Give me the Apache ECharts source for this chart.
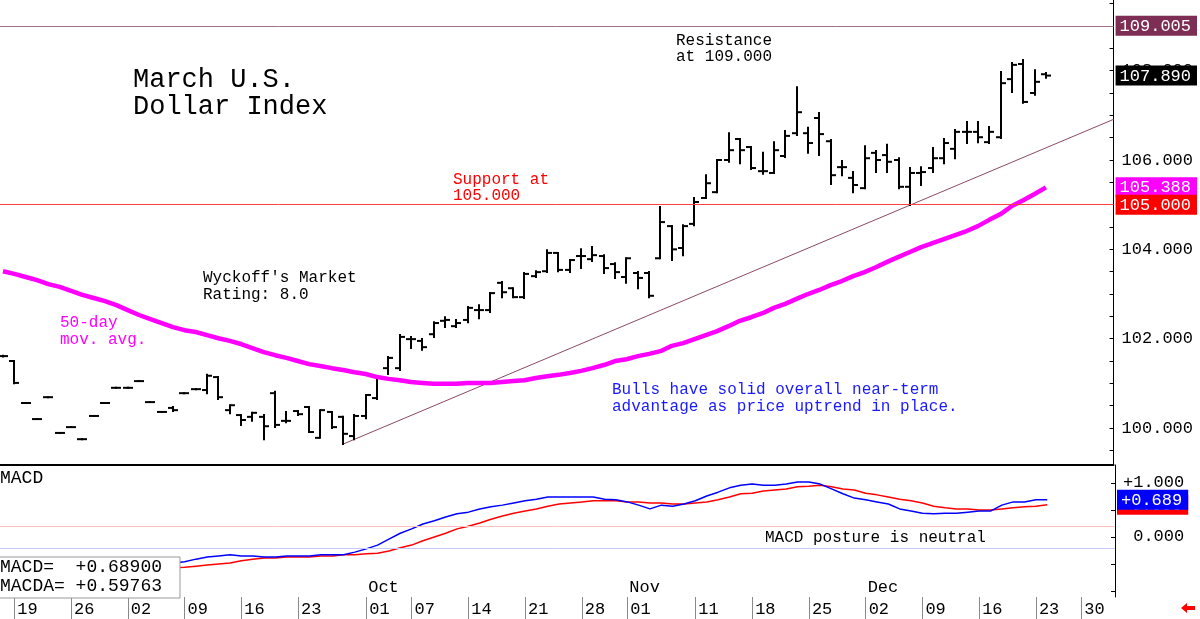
<!DOCTYPE html>
<html>
<head>
<meta charset="utf-8">
<title>March U.S. Dollar Index</title>
<script src="https://cdn.jsdelivr.net/npm/echarts@6.0.0/dist/echarts.min.js"></script>
<style>
  html, body { margin: 0; padding: 0; background: #fff; }
  #chart { width: 1200px; height: 619px; }
</style>
</head>
<body>
<div id="chart"></div>
<script>
// trading days shown, Aug 16 .. Dec 24
const days = [
  'Aug 16', 'Aug 19', 'Aug 20', 'Aug 21', 'Aug 22', 'Aug 23', 'Aug 26', 'Aug 27', 'Aug 28', 'Aug 29', 'Aug 30',
  'Sep 02', 'Sep 03', 'Sep 04', 'Sep 05', 'Sep 06', 'Sep 09', 'Sep 10', 'Sep 11', 'Sep 12', 'Sep 13',
  'Sep 16', 'Sep 17', 'Sep 18', 'Sep 19', 'Sep 20', 'Sep 23', 'Sep 24', 'Sep 25', 'Sep 26', 'Sep 27', 'Sep 30',
  'Oct 01', 'Oct 02', 'Oct 03', 'Oct 04', 'Oct 07', 'Oct 08', 'Oct 09', 'Oct 10', 'Oct 11',
  'Oct 14', 'Oct 15', 'Oct 16', 'Oct 17', 'Oct 18', 'Oct 21', 'Oct 22', 'Oct 23', 'Oct 24', 'Oct 25',
  'Oct 28', 'Oct 29', 'Oct 30', 'Oct 31',
  'Nov 01', 'Nov 04', 'Nov 05', 'Nov 06', 'Nov 07', 'Nov 08', 'Nov 11', 'Nov 12', 'Nov 13', 'Nov 14', 'Nov 15',
  'Nov 18', 'Nov 19', 'Nov 20', 'Nov 21', 'Nov 22', 'Nov 25', 'Nov 26', 'Nov 27', 'Nov 28', 'Nov 29',
  'Dec 02', 'Dec 03', 'Dec 04', 'Dec 05', 'Dec 06', 'Dec 09', 'Dec 10', 'Dec 11', 'Dec 12', 'Dec 13',
  'Dec 16', 'Dec 17', 'Dec 18', 'Dec 19', 'Dec 20', 'Dec 23', 'Dec 24'
];

const opens = [
  101.61, 101.50, 100.56, 100.20, 100.69, 99.89, 100.02, 99.75, 100.27, 100.56,
  100.90, 100.90, 101.05, 100.58, 100.36, 100.45, 100.78, 100.87, 100.85, 101.14,
  100.40, 100.29, 100.25, 100.25, 100.78, 100.16, 100.38, 100.47, 99.78, 100.36,
  100.25, 99.82, 100.27, 100.67, 101.34, 101.34, 101.99, 101.95, 102.10, 102.40,
  102.28, 102.42, 102.64, 102.64, 103.25, 103.13, 102.93, 103.40, 103.51, 103.92,
  103.54, 103.85, 103.78, 103.85, 103.67, 103.38, 103.47, 103.47, 103.80, 104.52,
  104.03, 104.57, 105.15, 105.28, 106.00, 106.47, 106.29, 105.75, 105.71, 106.09,
  106.60, 106.60, 106.94, 106.42, 105.84, 105.60, 105.37, 106.16, 106.11, 106.00,
  105.40, 105.71, 105.82, 106.04, 106.25, 106.63, 106.63, 106.40, 106.51, 107.81,
  108.15, 107.50, 107.92
];
const highs = [
  101.62, 101.50, 100.56, 100.20, 100.69, 99.89, 100.02, 99.75, 100.27, 100.56,
  100.90, 100.90, 101.05, 100.58, 100.36, 100.47, 100.78, 100.87, 101.19, 101.14,
  100.51, 100.29, 100.34, 100.29, 100.81, 100.36, 100.38, 100.47, 100.40, 100.36,
  100.25, 100.29, 100.74, 101.14, 101.59, 102.08, 102.04, 101.99, 102.37, 102.48,
  102.42, 102.71, 102.75, 103.02, 103.27, 103.13, 103.47, 103.51, 103.98, 103.92,
  103.76, 104.00, 104.05, 103.87, 103.69, 103.80, 103.49, 103.49, 104.95, 104.52,
  104.54, 105.15, 105.66, 106.00, 106.60, 106.47, 106.29, 106.16, 106.40, 106.65,
  107.63, 106.72, 107.05, 106.45, 105.98, 105.73, 106.31, 106.20, 106.34, 106.04,
  105.82, 105.84, 106.27, 106.47, 106.67, 106.85, 106.85, 106.74, 107.97, 108.17,
  108.24, 108.01, 107.95
];
const lows = [
  101.60, 101.00, 100.56, 100.20, 100.69, 99.89, 100.02, 99.75, 100.27, 100.56,
  100.90, 100.90, 101.05, 100.58, 100.36, 100.38, 100.78, 100.87, 100.78, 100.65,
  100.33, 100.07, 100.16, 99.75, 100.02, 100.13, 100.29, 99.91, 99.78, 100.00,
  99.64, 99.75, 100.22, 100.65, 101.21, 101.30, 101.79, 101.75, 102.04, 102.26,
  102.26, 102.37, 102.46, 102.60, 102.93, 102.93, 102.91, 103.38, 103.49, 103.51,
  103.49, 103.58, 103.74, 103.47, 103.36, 103.25, 103.13, 102.93, 103.80, 103.76,
  103.87, 104.54, 105.15, 105.28, 105.96, 105.93, 105.80, 105.69, 105.71, 106.07,
  106.56, 106.16, 106.11, 105.46, 105.66, 105.28, 105.37, 105.73, 105.73, 105.37,
  104.99, 105.44, 105.73, 105.93, 106.04, 106.38, 106.40, 106.38, 106.49, 107.52,
  107.28, 107.46, 107.84
];
const closes = [
  101.61, 101.01, 100.56, 100.20, 100.69, 99.89, 100.02, 99.75, 100.27, 100.56,
  100.90, 100.90, 101.05, 100.58, 100.36, 100.40, 100.78, 100.87, 101.17, 100.69,
  100.51, 100.18, 100.34, 100.04, 100.07, 100.16, 100.31, 99.91, 100.40, 100.02,
  99.87, 100.27, 100.74, 101.12, 101.57, 102.04, 101.99, 101.81, 102.35, 102.42,
  102.35, 102.69, 102.64, 103.02, 103.04, 102.93, 103.45, 103.49, 103.92, 103.54,
  103.76, 103.85, 103.87, 103.58, 103.49, 103.80, 103.36, 102.96, 104.61, 104.00,
  104.52, 105.06, 105.48, 106.00, 106.22, 106.22, 105.82, 105.75, 106.22, 106.54,
  107.07, 106.38, 106.58, 105.66, 105.84, 105.44, 106.04, 106.00, 105.96, 105.40,
  105.71, 105.73, 106.04, 106.38, 106.63, 106.63, 106.51, 106.63, 107.72, 108.13,
  107.30, 107.75, 107.89
];

// 50-day moving average
const ma50 = [
  103.51, 103.45, 103.38, 103.31, 103.22, 103.16, 103.07, 102.98, 102.91, 102.84,
  102.75, 102.64, 102.53, 102.44, 102.35, 102.26, 102.19, 102.15, 102.08, 102.01,
  101.95, 101.88, 101.79, 101.70, 101.63, 101.57, 101.50, 101.43, 101.39, 101.34,
  101.30, 101.25, 101.21, 101.14, 101.10, 101.07, 101.03, 101.01, 100.99, 100.99,
  100.99, 101.01, 101.01, 101.01, 101.03, 101.05, 101.07, 101.12, 101.16, 101.19,
  101.23, 101.28, 101.34, 101.41, 101.50, 101.54, 101.61, 101.66, 101.72, 101.84,
  101.90, 101.99, 102.08, 102.17, 102.28, 102.40, 102.48, 102.57, 102.69, 102.78,
  102.89, 103.00, 103.09, 103.20, 103.29, 103.40, 103.49, 103.60, 103.72, 103.83,
  103.94, 104.05, 104.14, 104.23, 104.32, 104.41, 104.52, 104.66, 104.79, 104.97,
  105.10, 105.24, 105.388
];

// MACD (blue) and MACDA signal (red)
const macd = [
  -0.85, -0.83, -0.83, -0.81, -0.80, -0.78, -0.76, -0.74, -0.72, -0.69,
  -0.65, -0.61, -0.57, -0.56, -0.52, -0.48, -0.46, -0.41, -0.37, -0.35,
  -0.33, -0.35, -0.35, -0.37, -0.37, -0.35, -0.35, -0.35, -0.33, -0.33,
  -0.33, -0.28, -0.22, -0.15, -0.04, 0.07, 0.15, 0.24, 0.30, 0.37,
  0.43, 0.46, 0.52, 0.56, 0.59, 0.63, 0.67, 0.70, 0.74, 0.74,
  0.74, 0.74, 0.74, 0.70, 0.69, 0.65, 0.59, 0.52, 0.59, 0.57,
  0.61, 0.67, 0.76, 0.83, 0.91, 0.96, 0.98, 0.96, 0.96, 0.98,
  1.02, 1.02, 0.98, 0.89, 0.80, 0.72, 0.69, 0.65, 0.61, 0.52,
  0.48, 0.44, 0.43, 0.44, 0.44, 0.46, 0.48, 0.48, 0.59, 0.65,
  0.65, 0.69, 0.689
];
const macdSignal = [
  -0.98, -0.96, -0.94, -0.93, -0.91, -0.89, -0.87, -0.85, -0.81, -0.78,
  -0.74, -0.70, -0.67, -0.63, -0.61, -0.57, -0.56, -0.54, -0.52, -0.50,
  -0.48, -0.44, -0.41, -0.39, -0.39, -0.37, -0.37, -0.37, -0.35, -0.35,
  -0.33, -0.33, -0.31, -0.30, -0.26, -0.20, -0.15, -0.07, 0.00, 0.07,
  0.15, 0.20, 0.26, 0.33, 0.39, 0.44, 0.48, 0.52, 0.57, 0.61,
  0.63, 0.65, 0.67, 0.67, 0.67, 0.65, 0.65, 0.63, 0.63, 0.61,
  0.61, 0.63, 0.65, 0.69, 0.74, 0.80, 0.81, 0.85, 0.87, 0.89,
  0.93, 0.94, 0.96, 0.93, 0.89, 0.87, 0.81, 0.78, 0.74, 0.70,
  0.67, 0.63, 0.57, 0.54, 0.52, 0.52, 0.50, 0.50, 0.52, 0.54,
  0.56, 0.57, 0.59763
];

// x axis labels (index into the trading-day sequence, Dec 30 is index 95)
const dateTicks = [1, 6, 11, 16, 21, 26, 32, 36, 41, 46, 51, 55, 61, 66, 71, 76, 81, 86, 91, 95];
const dateLabels = ['19', '26', '02', '09', '16', '23', '01', '07', '14', '21', '28', '01', '11', '18', '25', '02', '09', '16', '23', '30'];
const monthTicks = [32, 55, 76];
const monthLabels = ['Oct', 'Nov', 'Dec'];

const priceLabels = [100, 102, 104, 106, 108];
const priceTicks = [99.5, 100, 100.5, 101, 101.5, 102, 102.5, 103, 103.5, 104, 104.5, 105, 105.5,
  106, 106.5, 107, 107.5, 108, 108.5, 109, 109.5];
const macdLabels = [0, 1];
const macdTicks = [-1, -0.5, 0, 0.5, 1];

const supportLevel = 105.0;
const resistanceLevel = 109.005;
const macdBands = [0.2, -0.2];
const trendLine = [[30, 99.64], [97.97, 106.91]];

const FONT = '"Liberation Mono", "DejaVu Sans Mono", monospace';
const X_MIN = -0.264, X_MAX = 97.97;
const P_MIN = 99.172, P_MAX = 109.582;
const M_MIN = -1.111, M_MAX = 1.333;

const lastClose = closes[closes.length - 1];
const lastMa = ma50[ma50.length - 1];
const lastMacd = macd[macd.length - 1];
const lastSignal = macdSignal[macdSignal.length - 1];

// right-hand value boxes, drawn in this order (later on top)
const priceBoxes = [
  { value: resistanceLevel, color: '#7e2d55' },
  { value: lastClose, color: '#000000' },
  { value: lastMa, color: '#ff00ff' },
  { value: supportLevel, color: '#ff0000' }
];
const macdBoxes = [
  { value: lastSignal, color: '#ff0000' },
  { value: lastMacd, color: '#0000ff' }
];

let chart = echarts.init(document.getElementById('chart'), null, { renderer: 'canvas' });

function renderBar(params, api) {
  let i = api.value(0);
  let x = Math.round(api.coord([i, api.value(1)])[0]);
  let yO = api.coord([i, api.value(1)])[1];
  let yH = api.coord([i, api.value(2)])[1];
  let yL = api.coord([i, api.value(3)])[1];
  let yC = api.coord([i, api.value(4)])[1];
  let st = { stroke: '#000', lineWidth: 2 };
  return {
    type: 'group',
    children: [
      { type: 'line', shape: { x1: x, y1: yH - 1, x2: x, y2: yL + 1 }, style: st },
      { type: 'line', shape: { x1: x - 5, y1: yO, x2: x, y2: yO }, style: st },
      { type: 'line', shape: { x1: x, y1: yC, x2: x + 5, y2: yC }, style: st }
    ]
  };
}

function txt(x, y, text, color, size) {
  return {
    type: 'text', x: x, y: y, z: 100,
    style: { text: text, fill: color, font: size + 'px ' + FONT, verticalAlign: 'middle' }
  };
}

function boxAxis(gridIndex, min, max, box, sign, z) {
  return {
    gridIndex: gridIndex, type: 'value', position: 'right', min: min, max: max, z: z,
    axisLine: { show: false, onZero: false }, axisTick: { show: false }, splitLine: { show: false },
    axisLabel: {
      customValues: [box.value], margin: 2, showMinLabel: true, showMaxLabel: true,
      formatter: v => '{b|' + sign + v.toFixed(3) + '}',
      rich: {
        b: { color: '#fff', backgroundColor: box.color, fontFamily: FONT, fontSize: 17, padding: [2, 6, 1, 4], lineHeight: 18 }
      }
    }
  };
}

let yAxes = [
  {
    gridIndex: 0, type: 'value', position: 'right', min: P_MIN, max: P_MAX,
    axisLine: { show: true, onZero: false, lineStyle: { color: '#000', width: 1 } },
    axisTick: { show: true, inside: true, length: 4, customValues: priceTicks, lineStyle: { color: '#000' } },
    axisLabel: {
      customValues: priceLabels, formatter: v => v.toFixed(3), margin: 8,
      fontFamily: FONT, fontSize: 17, color: '#000'
    },
    splitLine: { show: false }
  },
  {
    gridIndex: 1, type: 'value', position: 'right', min: M_MIN, max: M_MAX,
    axisLine: { show: true, onZero: false, lineStyle: { color: '#000', width: 1 } },
    axisTick: { show: true, inside: true, length: 4, customValues: macdTicks, lineStyle: { color: '#000' } },
    axisLabel: {
      customValues: macdLabels, formatter: v => (v > 0 ? '+' : ' ') + v.toFixed(3), margin: 8,
      fontFamily: FONT, fontSize: 17, color: '#000'
    },
    splitLine: { show: false }
  }
];
priceBoxes.forEach((b, k) => yAxes.push(boxAxis(0, P_MIN, P_MAX, b, '', 10 + k)));
macdBoxes.forEach((b, k) => yAxes.push(boxAxis(1, M_MIN, M_MAX, b, '+', 10 + k)));

let option = {
  animation: false,
  backgroundColor: '#fff',
  grid: [
    { left: 0, top: 0, width: 1115, height: 465 },
    { left: 0, top: 465, width: 1115, height: 132 }
  ],
  xAxis: [
    {
      gridIndex: 0, type: 'value', position: 'bottom', min: X_MIN, max: X_MAX,
      axisLine: { show: true, onZero: false, lineStyle: { color: '#000', width: 2 } },
      axisTick: { show: false }, axisLabel: { show: false }, splitLine: { show: false }
    },
    {
      gridIndex: 1, type: 'value', position: 'bottom', min: X_MIN, max: X_MAX,
      axisLine: { show: false, onZero: false },
      axisTick: { show: true, customValues: dateTicks, length: 22, lineStyle: { color: '#8a8a8a', width: 1 } },
      axisLabel: {
        customValues: dateTicks,
        formatter: v => dateLabels[dateTicks.indexOf(v)],
        align: 'left', padding: [0, 0, 0, 3], margin: 4,
        showMinLabel: true, showMaxLabel: true,
        fontFamily: FONT, fontSize: 17, color: '#000'
      },
      splitLine: { show: false }
    },
    {
      gridIndex: 1, type: 'value', position: 'bottom', min: X_MIN, max: X_MAX,
      axisLine: { show: false, onZero: false }, axisTick: { show: false },
      axisLabel: {
        inside: true, customValues: monthTicks,
        formatter: v => monthLabels[monthTicks.indexOf(v)],
        align: 'left', padding: [0, 0, 0, 2], margin: 1,
        fontFamily: FONT, fontSize: 17, color: '#000'
      },
      splitLine: { show: false }
    }
  ],
  yAxis: yAxes,
  series: [
    {
      name: 'trend', type: 'line', xAxisIndex: 0, yAxisIndex: 0,
      data: trendLine, showSymbol: false, silent: true, z: 1,
      lineStyle: { color: '#8b4a66', width: 1 }
    },
    {
      name: 'levels', type: 'line', xAxisIndex: 0, yAxisIndex: 0, data: [], silent: true,
      markLine: {
        silent: true, symbol: ['none', 'none'], label: { show: false },
        data: [
          { yAxis: resistanceLevel, lineStyle: { color: '#a07088', width: 1, type: 'solid' } },
          { yAxis: supportLevel, lineStyle: { color: '#ff4040', width: 1, type: 'solid' } }
        ]
      }
    },
    {
      name: 'price', type: 'custom', xAxisIndex: 0, yAxisIndex: 0,
      renderItem: renderBar,
      data: days.map((d, i) => [i, opens[i], highs[i], lows[i], closes[i]]),
      encode: { x: 0, y: [1, 2, 3, 4] }, z: 3
    },
    {
      name: '50-day', type: 'line', xAxisIndex: 0, yAxisIndex: 0,
      data: ma50.map((v, i) => [i, v]), showSymbol: false, z: 4,
      lineStyle: { color: '#ff00ff', width: 4.5 }
    },
    {
      name: 'MACD', type: 'line', xAxisIndex: 1, yAxisIndex: 1,
      data: macd.map((v, i) => [i, v]), showSymbol: false, z: 4,
      lineStyle: { color: '#0000ff', width: 1.5 },
      markLine: {
        silent: true, symbol: ['none', 'none'], label: { show: false },
        data: [
          { yAxis: macdBands[0], lineStyle: { color: '#ffc0c0', width: 1, type: 'solid' } },
          { yAxis: macdBands[1], lineStyle: { color: '#c8c8ff', width: 1, type: 'solid' } }
        ]
      }
    },
    {
      name: 'MACDA', type: 'line', xAxisIndex: 1, yAxisIndex: 1,
      data: macdSignal.map((v, i) => [i, v]), showSymbol: false, z: 3,
      lineStyle: { color: '#ff0000', width: 1.5 }
    }
  ],
  graphic: [
    txt(133, 80, 'March U.S.', '#000', 27),
    txt(133, 107, 'Dollar Index', '#000', 27),
    txt(676, 41, 'Resistance', '#000', 16),
    txt(676, 57, 'at 109.000', '#000', 16),
    txt(453, 180, 'Support at', '#ff0000', 16),
    txt(453, 196, '105.000', '#ff0000', 16),
    txt(203, 278, "Wyckoff's Market", '#000', 16),
    txt(203, 295, 'Rating: 8.0', '#000', 16),
    txt(60, 323, '50-day', '#ff00ff', 16),
    txt(60, 340, 'mov. avg.', '#ff00ff', 16),
    txt(612, 390, 'Bulls have solid overall near-term', '#1a1aff', 16),
    txt(612, 407, 'advantage as price uptrend in place.', '#1a1aff', 16),
    txt(765, 538, 'MACD posture is neutral', '#000', 16),
    txt(0, 478, 'MACD', '#000', 18),
    {
      type: 'rect', z: 99,
      shape: { x: -1, y: 557, width: 181, height: 41 },
      style: { fill: '#fff', stroke: '#999', lineWidth: 1 }
    },
    txt(0, 567, 'MACD=  +' + lastMacd.toFixed(5), '#000', 18),
    txt(0, 586, 'MACDA= +' + lastSignal.toFixed(5), '#000', 18),
    {
      type: 'polygon', z: 100,
      shape: { points: [[1181, 608], [1187, 603], [1187, 606], [1195, 606], [1195, 610], [1187, 610], [1187, 613]] },
      style: { fill: '#ff0000' }
    }
  ]
};

chart.setOption(option);
</script>
</body>
</html>
